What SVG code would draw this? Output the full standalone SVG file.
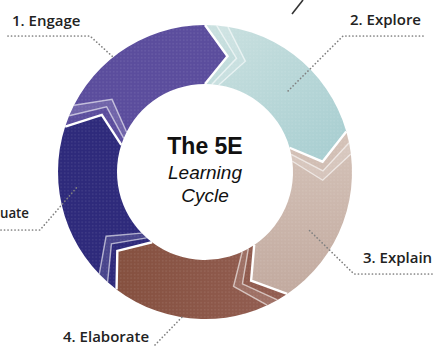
<svg xmlns="http://www.w3.org/2000/svg" xmlns:xlink="http://www.w3.org/1999/xlink" width="434" height="347" viewBox="0 0 434 347">
<style>
.lbl{font-family:"Open Sans","Noto Sans","Liberation Sans",sans-serif;font-size:15px;font-weight:600;fill:#222}
.title{font-family:"Liberation Sans","Open Sans",sans-serif;fill:#111;text-anchor:middle}
.edge{fill:none;stroke:#fff;stroke-width:2.4;stroke-linejoin:miter}
.stripe{fill:none;stroke:#fff;stroke-opacity:0.6;stroke-width:1.4}
.band{fill:#fff;fill-opacity:0.13}
.lead{fill:none;stroke:#808080;stroke-width:1.7;stroke-linecap:round;stroke-dasharray:0.1 3.4}
</style>
<defs>
<linearGradient id="gExplore" x1="0" y1="0" x2="1" y2="1">
<stop offset="0" stop-color="#cbe1e0"/><stop offset="1" stop-color="#a6cdd0"/>
</linearGradient>
<linearGradient id="gExplain" x1="0" y1="0" x2="0" y2="1">
<stop offset="0" stop-color="#d5c3b9"/><stop offset="1" stop-color="#c2aa9f"/>
</linearGradient>
<linearGradient id="gElab" x1="0" y1="0" x2="1" y2="0">
<stop offset="0" stop-color="#85503f"/><stop offset="1" stop-color="#935e52"/>
</linearGradient>
<pattern id="dots" width="3.5" height="3.5" patternUnits="userSpaceOnUse">
<circle cx="1.7" cy="1.7" r="0.55" fill="#fff" fill-opacity="0.22"/>
</pattern>
<path id="chev" d="M205,25 L227.5,56.2 L205,84"/>
<path id="bandShape" d="M216.5,25.45 A147,147 0 0 1 228,26.8 L245.4,61.1 L218.8,85.1 A88,88 0 0 0 211.9,84.27 L236.5,58.3 Z"/>
</defs>
<rect width="434" height="347" fill="#fff"/>

<g id="engage">
<path d="M65.2,126.6 A147,147 0 0 1 205,25 L227.5,56.2 L205,84 A88,88 0 0 0 121.3,144.8 L101.8,114.8 Z" fill="#5b4d9d"/>
</g>
<g id="explore">
<path d="M205,25 A147,147 0 0 1 346.3,131.5 L322.6,161.7 L289.6,147.7 A88,88 0 0 0 205,84 L227.5,56.2 Z" fill="url(#gExplore)"/>
</g>
<g id="explain">
<path d="M346.3,131.5 A147,147 0 0 1 287.2,293.9 L251.1,280.6 L254.2,245 A88,88 0 0 0 289.6,147.7 L322.6,161.7 Z" fill="url(#gExplain)"/>
</g>
<g id="elaborate">
<path d="M287.2,293.9 A147,147 0 0 1 116.5,289.4 L117.3,251 L152,242.3 A88,88 0 0 0 254.2,245 L251.1,280.6 Z" fill="url(#gElab)"/>
</g>
<g id="evaluate">
<path d="M116.5,289.4 A147,147 0 0 1 65.2,126.6 L101.8,114.8 L121.3,144.8 A88,88 0 0 0 152,242.3 L117.3,251 Z" fill="#2e2a7b"/>
</g>

<g id="texture">
<path d="M205,25 A147,147 0 1 1 204.99,25 Z M205,84 A88,88 0 1 0 205.01,84 Z" fill="url(#dots)" fill-rule="evenodd"/>
</g>

<g id="chevrons">
<use xlink:href="#bandShape" class="band"/>
<use xlink:href="#chev" class="stripe" transform="rotate(4.5 205 172)"/>
<use xlink:href="#chev" class="stripe" transform="rotate(9 205 172)"/>
<use xlink:href="#chev" class="edge"/>

<use xlink:href="#bandShape" class="band" transform="rotate(74 205 172)"/>
<use xlink:href="#chev" class="stripe" transform="rotate(78.5 205 172)"/>
<use xlink:href="#chev" class="stripe" transform="rotate(83 205 172)"/>
<use xlink:href="#chev" class="edge" transform="rotate(74 205 172)"/>

<use xlink:href="#bandShape" class="band" transform="rotate(146 205 172)"/>
<use xlink:href="#chev" class="stripe" transform="rotate(150.5 205 172)"/>
<use xlink:href="#chev" class="stripe" transform="rotate(155 205 172)"/>
<use xlink:href="#chev" class="edge" transform="rotate(146 205 172)"/>

<use xlink:href="#bandShape" class="band" transform="rotate(217 205 172)"/>
<use xlink:href="#chev" class="stripe" transform="rotate(221.5 205 172)"/>
<use xlink:href="#chev" class="stripe" transform="rotate(226 205 172)"/>
<use xlink:href="#chev" class="edge" transform="rotate(217 205 172)"/>

<use xlink:href="#bandShape" class="band" transform="rotate(288 205 172)"/>
<use xlink:href="#chev" class="stripe" transform="rotate(292.5 205 172)"/>
<use xlink:href="#chev" class="stripe" transform="rotate(297 205 172)"/>
<use xlink:href="#chev" class="edge" transform="rotate(288 205 172)"/>
</g>

<g id="center">
<text class="title" x="205" y="154" font-size="23" font-weight="700">The 5E</text>
<text class="title" x="205" y="179" font-size="19" font-style="italic">Learning</text>
<text class="title" x="205" y="202" font-size="19" font-style="italic">Cycle</text>
</g>

<g id="connectors">
<path class="lead" d="M8,36 H90 L113,57"/>
<path class="lead" d="M423,36 H343 L287,92"/>
<path class="lead" d="M432,274 H354 L309,230"/>
<path class="lead" d="M155,345 L184,315"/>
<path class="lead" d="M1,230 H40 L78,186"/>
<path d="M292,14 L303,0" stroke="#333" stroke-width="1.6" fill="none"/>
</g>

<g id="labels">
<text class="lbl" x="12" y="26">1. Engage</text>
<text class="lbl" x="350" y="25">2. Explore</text>
<text class="lbl" x="363" y="263">3. Explain</text>
<text class="lbl" x="63" y="342">4. Elaborate</text>
<text class="lbl" x="0" y="218" textLength="29" lengthAdjust="spacingAndGlyphs">uate</text>
</g>
</svg>
